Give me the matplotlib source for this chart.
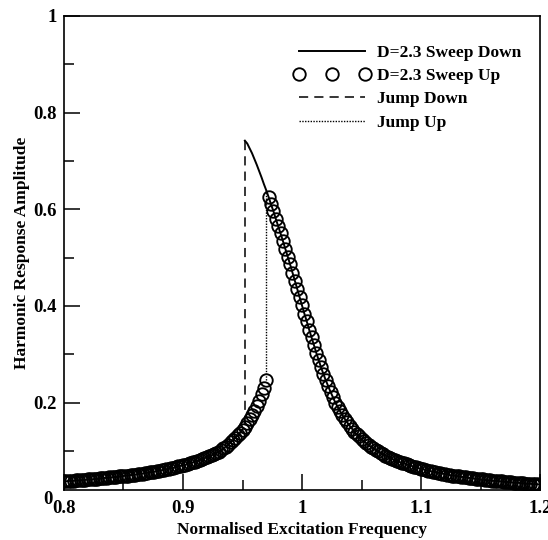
import numpy as np
import matplotlib
matplotlib.use("Agg")
import matplotlib.pyplot as plt
from matplotlib.lines import Line2D
from matplotlib import transforms

# ---------------- data ----------------
# lower (non-resonant) branch, frequency 0.800 ... 0.970 (step 0.002)
freq_lower = np.linspace(0.800, 0.970, 86)
amp_lower = [
    0.037, 0.037, 0.038, 0.038, 0.038, 0.039, 0.039, 0.039, 0.040, 0.040,
    0.041, 0.041, 0.041, 0.042, 0.042, 0.043, 0.043, 0.044, 0.044, 0.045,
    0.045, 0.046, 0.046, 0.047, 0.047, 0.048, 0.049, 0.049, 0.050, 0.050,
    0.051, 0.052, 0.053, 0.053, 0.054, 0.055, 0.056, 0.056, 0.057, 0.058,
    0.059, 0.060, 0.061, 0.062, 0.063, 0.064, 0.065, 0.066, 0.068, 0.069,
    0.070, 0.071, 0.073, 0.074, 0.076, 0.077, 0.079, 0.081, 0.083, 0.085,
    0.087, 0.089, 0.091, 0.093, 0.096, 0.098, 0.102, 0.105, 0.109, 0.113,
    0.118, 0.122, 0.127, 0.132, 0.138, 0.144, 0.150, 0.158, 0.165, 0.174,
    0.183, 0.193, 0.204, 0.217, 0.231, 0.246,
]

# upper (resonant) branch, frequency 0.952 ... 1.200 (step 0.002)
freq_upper = np.linspace(0.952, 1.200, 125)
amp_upper = [
    0.742, 0.736, 0.726, 0.716, 0.704, 0.692, 0.679, 0.666, 0.652, 0.639,
    0.625, 0.610, 0.596, 0.580, 0.565, 0.550, 0.534, 0.518, 0.502, 0.486,
    0.469, 0.452, 0.435, 0.418, 0.401, 0.384, 0.368, 0.351, 0.335, 0.319,
    0.303, 0.288, 0.273, 0.259, 0.246, 0.234, 0.222, 0.211, 0.200, 0.191,
    0.182, 0.174, 0.166, 0.159, 0.152, 0.146, 0.140, 0.134, 0.130, 0.125,
    0.120, 0.116, 0.112, 0.108, 0.105, 0.102, 0.099, 0.096, 0.093, 0.090,
    0.088, 0.086, 0.083, 0.081, 0.079, 0.077, 0.075, 0.074, 0.072, 0.070,
    0.069, 0.067, 0.066, 0.064, 0.063, 0.062, 0.060, 0.059, 0.058, 0.057,
    0.056, 0.055, 0.054, 0.053, 0.052, 0.051, 0.050, 0.049, 0.049, 0.048,
    0.047, 0.046, 0.046, 0.045, 0.044, 0.044, 0.043, 0.042, 0.042, 0.041,
    0.041, 0.040, 0.039, 0.039, 0.038, 0.038, 0.038, 0.037, 0.037, 0.036,
    0.036, 0.035, 0.035, 0.034, 0.034, 0.034, 0.033, 0.033, 0.032, 0.032,
    0.032, 0.031, 0.031, 0.031, 0.030,
]

jump_down_idx_lower = 76   # lower-branch point (f = 0.952) reached by the jump down
jump_up_idx_upper = 9      # upper-branch point (f = 0.970) reached by the jump up
sweep_up_start_upper = 10  # first upper-branch point recorded on sweep up

labels = ["D=2.3 Sweep Down", "D=2.3 Sweep Up", "Jump Down", "Jump Up"]
x_label = "Normalised Excitation Frequency"
y_label = "Harmonic Response Amplitude"

# ---------------- figure ----------------
plt.rcParams["font.family"] = ["Liberation Serif", "DejaVu Serif"]
plt.rcParams["font.weight"] = "bold"

fig = plt.figure(figsize=(5.48, 5.40), dpi=100)
ax = fig.add_axes([64 / 548, 1 - 490 / 540, 476 / 548, 474 / 540])

amp_lower = np.asarray(amp_lower)
amp_upper = np.asarray(amp_upper)

MS = 9
MEW = 1.35

# sweep down (solid): upper branch, then lower branch below the jump
ax.plot(freq_upper, amp_upper, color="black", lw=1.4, zorder=2)
ax.plot(freq_lower[:jump_down_idx_lower], amp_lower[:jump_down_idx_lower],
        color="black", lw=1.4, zorder=2)

# sweep up (circles)
up_f = np.concatenate([freq_lower, freq_upper[sweep_up_start_upper:]])
up_a = np.concatenate([amp_lower, amp_upper[sweep_up_start_upper:]])
ax.plot(up_f, up_a, linestyle="none", marker="o", markersize=MS,
        markerfacecolor="none", markeredgecolor="black", markeredgewidth=MEW,
        zorder=3)

# jump down (dashed)
ax.plot([freq_upper[0], freq_upper[0]],
        [amp_upper[0], amp_lower[jump_down_idx_lower]],
        color="black", lw=1.1, dashes=(6, 4), zorder=2)
# jump up (dotted)
ax.plot([freq_lower[-1], freq_lower[-1]],
        [amp_lower[-1], amp_upper[jump_up_idx_upper]],
        color="black", lw=1.0, linestyle=(0, (1, 1)), zorder=2)

ax.set_xlim(0.8, 1.2)
ax.set_ylim(0.019, 1.0)
ax.set_xticks([0.8, 0.9, 1.0, 1.1, 1.2])
ax.set_xticklabels(["0.8", "0.9", "1", "1.1", "1.2"])
ax.set_xticks([0.85, 0.95, 1.05, 1.15], minor=True)
ax.set_yticks([0.2, 0.4, 0.6, 0.8, 1.0])
ax.set_yticklabels(["0.2", "0.4", "0.6", "0.8", "1"])
ax.set_yticks([0.1, 0.3, 0.5, 0.7, 0.9], minor=True)

TICK_FS = 13.5
ax.tick_params(which="both", direction="in", top=False, right=False,
               width=1.1, labelsize=TICK_FS)
ax.tick_params(which="major", length=11.5)
ax.tick_params(which="minor", length=7)
ax.tick_params(axis="x", pad=7)
ax.tick_params(axis="y", pad=5)
for lbl in ax.get_xticklabels() + ax.get_yticklabels():
    lbl.set_fontweight("bold")
for sp in ax.spines.values():
    sp.set_linewidth(1.2)

# "0" label of the y axis (drawn just below the axis frame, as in the reference)
off = transforms.ScaledTranslation(-8 / 72, 0, fig.dpi_scale_trans)
ax.text(0, 0.0, "0", transform=transforms.blended_transform_factory(
    ax.transAxes, ax.transData) + off, ha="right", va="center",
    fontsize=TICK_FS, fontweight="bold", clip_on=False)

ax.set_xlabel(x_label, fontsize=12.5, fontweight="bold")
ax.set_ylabel(y_label, fontsize=12.5, fontweight="bold")
ax.xaxis.set_label_coords(0.5, -0.068)
ax.yaxis.set_label_coords(-0.072, 0.5)

handles = [
    Line2D([], [], color="black", lw=1.4),
    Line2D([], [], linestyle="none", marker="o", markersize=MS,
           markerfacecolor="none", markeredgecolor="black", markeredgewidth=MEW),
    Line2D([], [], color="black", lw=1.1, dashes=(6, 4)),
    Line2D([], [], color="black", lw=1.0, linestyle=(0, (1, 1))),
]
ax.legend(handles, labels, loc="upper left", bbox_to_anchor=(0.483, 0.94),
          frameon=False, handlelength=4.4, handletextpad=0.4,
          labelspacing=0.42, borderaxespad=0, borderpad=0, numpoints=3,
          prop={"weight": "bold", "size": 12.5})

fig.savefig("out.png", dpi=100)
